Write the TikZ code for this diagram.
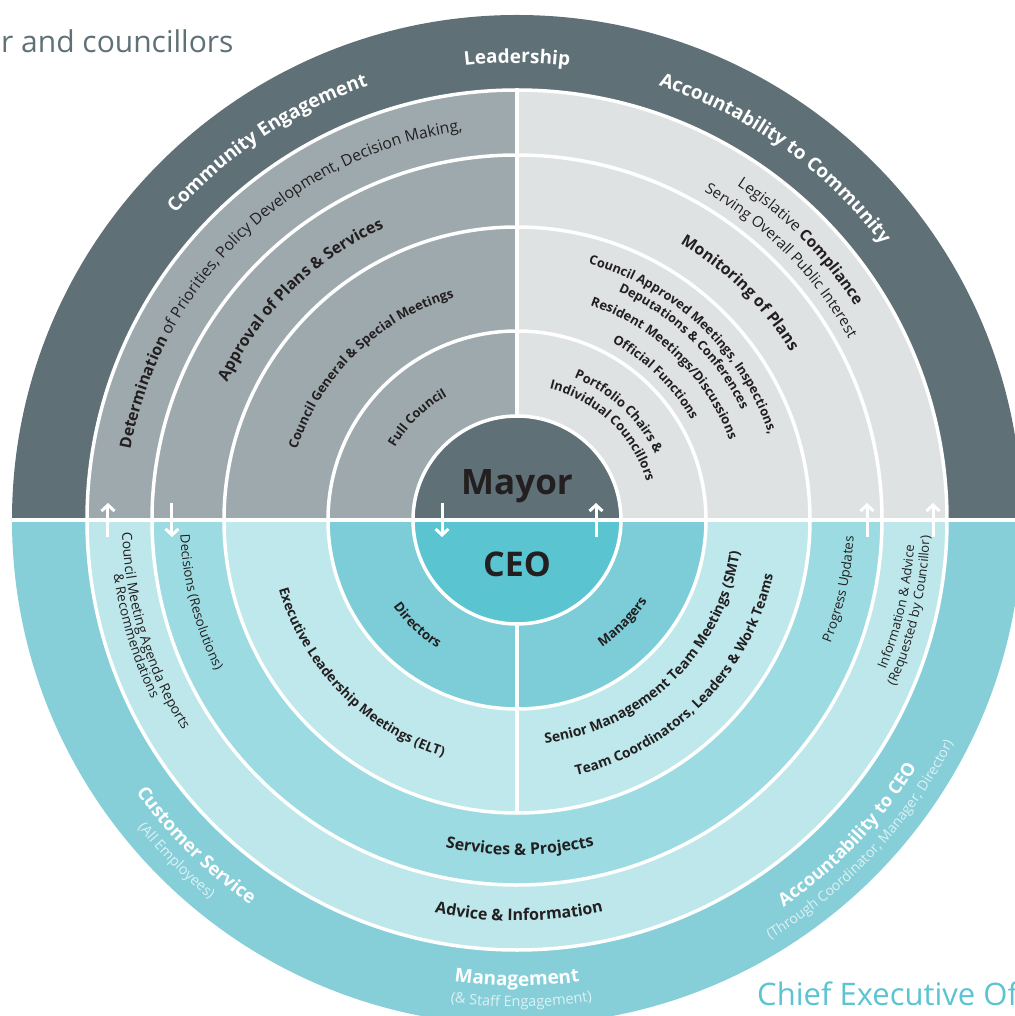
\documentclass[tikz,border=0pt]{standalone}
\usepackage{fontspec}
\setmainfont{Open Sans}
\usetikzlibrary{decorations.text,arrows.meta}
\definecolor{slate}{HTML}{5F7077}
\definecolor{greymid}{HTML}{9EA9AD}
\definecolor{greylight}{HTML}{DFE2E3}
\definecolor{tealout}{HTML}{86CFD9}
\definecolor{tealadvice}{HTML}{BDE7EB}
\definecolor{tealservice}{HTML}{9DDBE2}
\definecolor{tealexec}{HTML}{BFE8EC}
\definecolor{tealdir}{HTML}{7CCDD7}
\definecolor{tealceo}{HTML}{5BC4D1}
\definecolor{ink}{HTML}{231F20}
\definecolor{paletext}{HTML}{DCF1F4}
\tikzset{>={Straight Barb[length=6pt,width=13pt]}}
\newcommand{\fsz}[1]{\fontsize{#1}{#1}\selectfont}
\tikzset{
  ringtext/.style={decorate, decoration={text along path, text align=center, text color=#1}},
  ringtext/.default=ink,
  rim/.style={white, line width=3.5pt},
  flow/.style={white, line width=3pt, ->},
}
\newcommand{\toptext}[5][ink]{\path[ringtext=#1, decoration={text={#5}}] ({#3+#4}:#2) arc[start angle={#3+#4}, end angle={#3-#4}, radius=#2];}
\newcommand{\bottext}[5][ink]{\path[ringtext=#1, decoration={text={#5}}] ({#3-#4}:#2) arc[start angle={#3-#4}, end angle={#3+#4}, radius=#2];}

\begin{document}
\begin{tikzpicture}[x=1pt, y=1pt]
  \useasboundingbox (-517,-496) rectangle (497,520);
  \fill[slate] (505,0) arc[start angle=0, end angle=180, radius=505] -- cycle;
  \fill[tealout] (-505,0) arc[start angle=180, end angle=360, radius=505] -- cycle;
  \fill[greymid] (0,0) -- (0,430) arc[start angle=90, end angle=180, radius=430] -- cycle;
  \fill[greylight] (0,0) -- (430,0) arc[start angle=0, end angle=90, radius=430] -- cycle;
  \fill[slate] (104,0) arc[start angle=0, end angle=180, radius=104] -- cycle;
  \fill[tealadvice] (-430,0) arc[start angle=180, end angle=360, radius=430] -- cycle;
  \fill[tealservice] (-365,0) arc[start angle=180, end angle=360, radius=365] -- cycle;
  \fill[tealexec] (-293,0) arc[start angle=180, end angle=360, radius=293] -- cycle;
  \fill[tealdir] (-189,0) arc[start angle=180, end angle=360, radius=189] -- cycle;
  \fill[tealceo] (-104,0) arc[start angle=180, end angle=360, radius=104] -- cycle;
  \foreach \r in {104,189,293,365,430}
    \draw[rim] (0,0) circle[radius=\r];
  \draw[rim] (-505,0) -- (505,0);
  \draw[rim] (0,104) -- (0,430);
  \draw[rim] (0,-104) -- (0,-293);

  \node[anchor=base, text=ink, font=\fsz{35}\bfseries] (mayor) at (0,25) {Mayor};
  \node[anchor=base, text=ink, font=\fsz{34}\bfseries] (ceo) at (0,-57) {CEO};
  \node[anchor=base west, text=slate, font=\fsz{30}, inner sep=0] (mayortitle) at (-516,467) {r and councillors};
  \node[anchor=base west, text=tealceo, font=\fsz{31}, inner sep=0] (ceotitle) at (240,-485) {Chief Executive Of};

  \toptext[white]{459}{123.5}{40}{|\fsz{19}\bfseries|Community Engagement}
  \toptext[white]{457}{90}{30}{|\fsz{19}\bfseries|Leadership}
  \toptext[white]{457}{54.5}{40}{|\fsz{19}\bfseries|Accountability to Community}
  \toptext{393}{133.8}{75}{|\fsz{15.8}\bfseries|Determination |\fsz{15.8}|of Priorities, Policy Development, Decision Making,}
  \toptext{321}{134.5}{50}{|\fsz{16}\bfseries|Approval of Plans {\&} Services}
  \toptext{231}{134}{60}{|\fsz{13}\bfseries|Council General {\&} Special Meetings}
  \toptext{142}{134.3}{40}{|\fsz{12.8}\bfseries|Full Council}
  \toptext{400}{44.5}{40}{|\fsz{15.5}|Legislative |\fsz{15.5}\bfseries|Compliance}
  \toptext{378}{44.5}{40}{|\fsz{15}|Serving Overall Public Interest}
  \toptext{321}{45.5}{40}{|\fsz{16}\bfseries|Monitoring of Plans}
  \toptext{266}{46.6}{60}{|\fsz{12.8}\bfseries|Council Approved Meetings, Inspections,}
  \toptext{250}{46.1}{50}{|\fsz{12.8}\bfseries|Deputations {\&} Conferences}
  \toptext{227}{45.9}{55}{|\fsz{13}\bfseries|Resident Meetings/Discussions}
  \toptext{201}{45.8}{45}{|\fsz{12.8}\bfseries|Official Functions}
  \toptext{153}{46.7}{50}{|\fsz{13}\bfseries|Portfolio Chairs {\&}}
  \toptext{135}{46.3}{60}{|\fsz{13}\bfseries|Individual Councillors}

  \bottext{395}{197}{30}{|\fsz{13.8}|Council Meeting Agenda Reports}
  \bottext{407}{196.9}{30}{|\fsz{13.4}|{\&} Recommendations}
  \bottext{337}{194.5}{30}{|\fsz{13.2}|Decisions (Resolutions)}
  \bottext{248}{224.5}{50}{|\fsz{13.5}\bfseries|Executive Leadership Meetings (ELT)}
  \bottext{151}{226.6}{40}{|\fsz{13.3}\bfseries|Directors}
  \bottext{153}{316}{40}{|\fsz{13.3}\bfseries|Managers}
  \bottext{225}{314.5}{60}{|\fsz{14}\bfseries|Senior Management Team Meetings (SMT)}
  \bottext{262}{315.5}{60}{|\fsz{13.8}\bfseries|Team Coordinators, Leaders {\&} Work Teams}
  \bottext{337}{347.9}{30}{|\fsz{13.3}|Progress Updates}
  \bottext{398}{347.1}{30}{|\fsz{13}|Information {\&} Advice}
  \bottext{413}{347}{30}{|\fsz{13}|(Requested by Councillor)}
  \bottext{335}{270.5}{30}{|\fsz{16}\bfseries|Services {\&} Projects}
  \bottext{401}{270.3}{30}{|\fsz{16}\bfseries|Advice {\&} Information}
  \bottext[white]{468}{225.4}{30}{|\fsz{18.5}\bfseries|Customer Service}
  \bottext[paletext]{488}{225}{30}{|\fsz{14.5}|(All Employees)}
  \bottext[white]{466}{270}{30}{|\fsz{19}\bfseries|Management}
  \bottext[paletext]{487}{270.5}{30}{|\fsz{14.5}|({\&} Staff Engagement)}
  \bottext[white]{470}{316.4}{30}{|\fsz{18}\bfseries|Accountability to CEO}
  \bottext[paletext]{490}{317}{40}{|\fsz{14}|(Through Coordinator, Manager, Director)}

  \foreach \x [count=\i] in {-409,-345,-75,79,350,416} {
    \coordinate (lo\i) at (\x,-17);
    \coordinate (hi\i) at (\x,17);
  }
  \draw[flow] (lo1) -- (hi1);
  \draw[flow] (hi2) -- (lo2);
  \draw[flow] (hi3) -- (lo3);
  \draw[flow] (lo4) -- (hi4);
  \draw[flow] (lo5) -- (hi5);
  \draw[flow] (lo6) -- (hi6);
\end{tikzpicture}
\end{document}
